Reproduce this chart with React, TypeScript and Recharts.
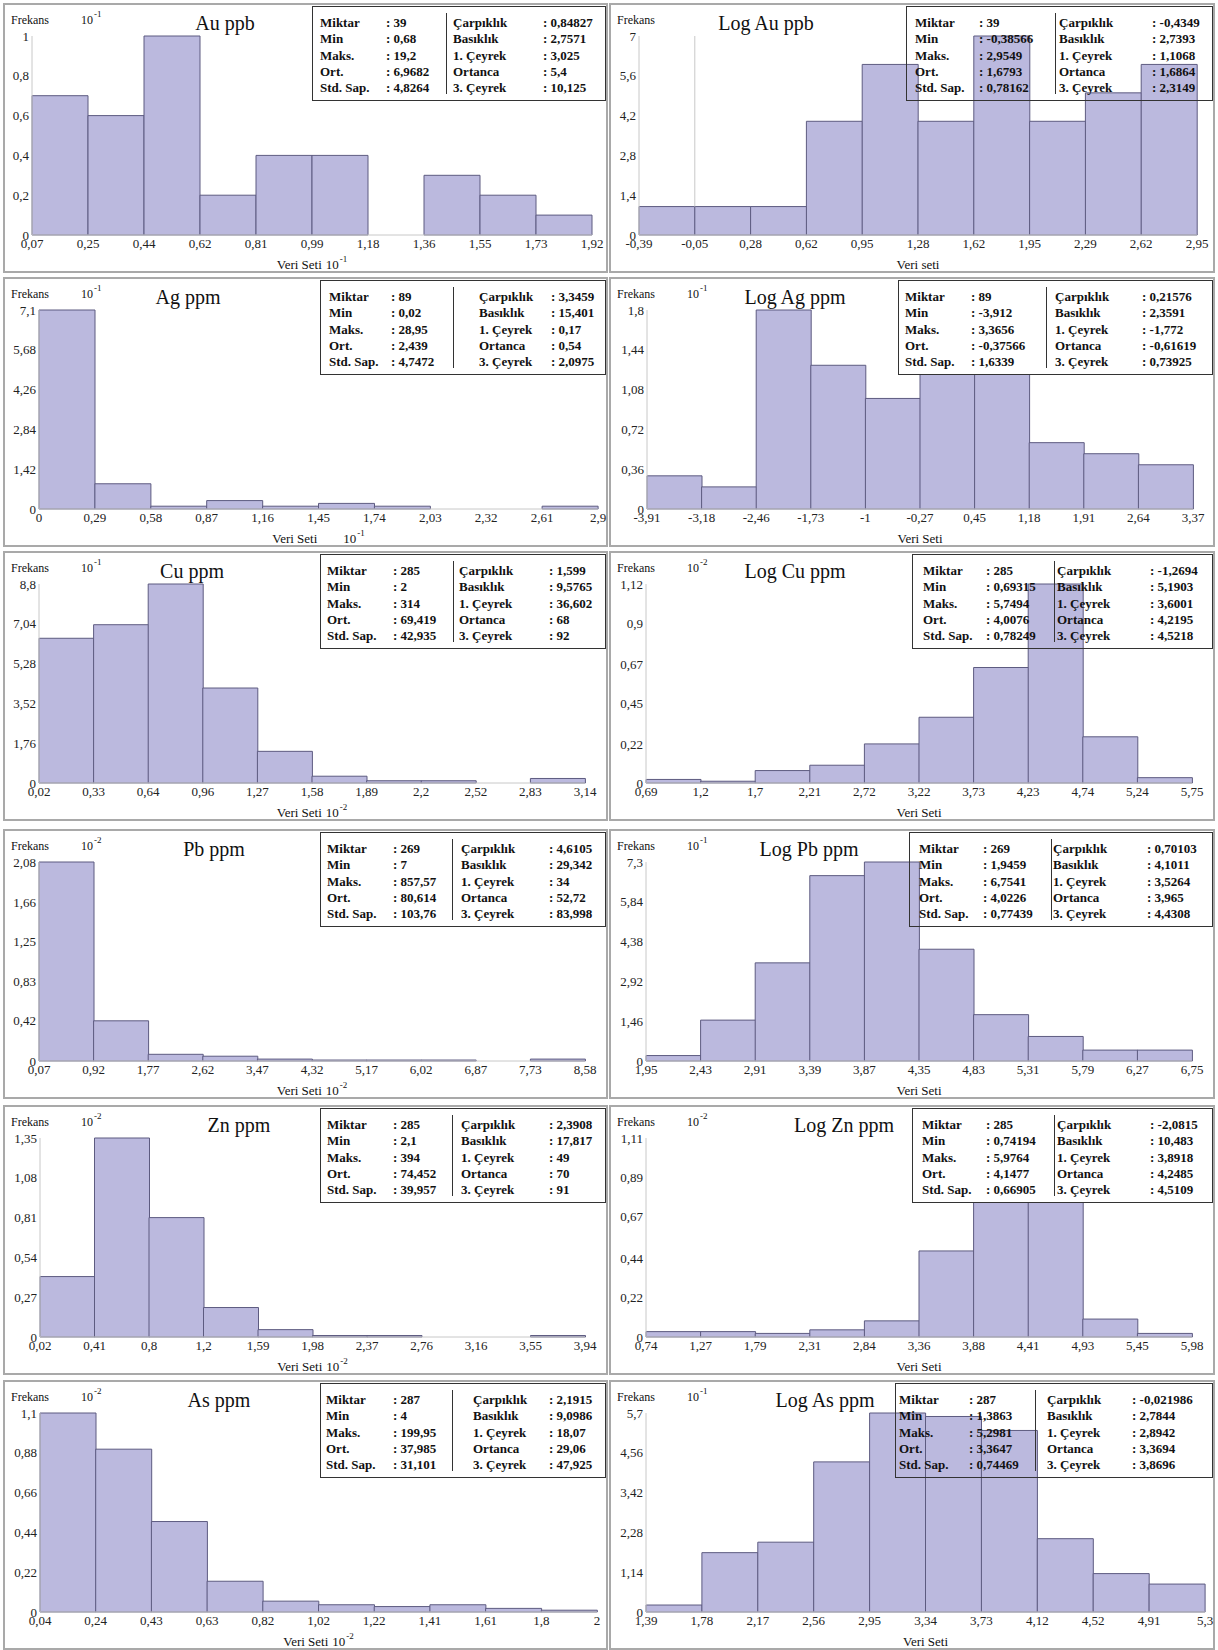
import React from 'react';
import { BarChart, Bar, XAxis, YAxis, ReferenceLine } from 'recharts';

// stat box labels (same in every panel)
const leftStatLabels = ['Miktar', 'Min', 'Maks.', 'Ort.', 'Std. Sap.'];
const rightStatLabels = ['Çarpıklık', 'Basıklık', '1. Çeyrek', 'Ortanca', '3. Çeyrek'];

// Au ppb
const auEdges = ['0,07', '0,25', '0,44', '0,62', '0,81', '0,99', '1,18', '1,36', '1,55', '1,73', '1,92'];
const auFreq = [0.7, 0.6, 1, 0.2, 0.4, 0.4, 0, 0.3, 0.2, 0.1];
const auYTicks = [0, 0.2, 0.4, 0.6, 0.8, 1];
const auStats = ['39', '0,68', '19,2', '6,9682', '4,8264', '0,84827', '2,7571', '3,025', '5,4', '10,125'];

// Log Au ppb
const logAuEdges = ['-0,39', '-0,05', '0,28', '0,62', '0,95', '1,28', '1,62', '1,95', '2,29', '2,62', '2,95'];
const logAuFreq = [1, 1, 1, 4, 6, 4, 7, 4, 5, 6];
const logAuYTicks = [0, 1.4, 2.8, 4.2, 5.6, 7];
const logAuStats = ['39', '-0,38566', '2,9549', '1,6793', '0,78162', '-0,4349', '2,7393', '1,1068', '1,6864', '2,3149'];

// Ag ppm
const agEdges = ['0', '0,29', '0,58', '0,87', '1,16', '1,45', '1,74', '2,03', '2,32', '2,61', '2,9'];
const agFreq = [7.1, 0.9, 0.1, 0.3, 0.1, 0.2, 0.1, 0, 0, 0.1];
const agYTicks = [0, 1.42, 2.84, 4.26, 5.68, 7.1];
const agStats = ['89', '0,02', '28,95', '2,439', '4,7472', '3,3459', '15,401', '0,17', '0,54', '2,0975'];

// Log Ag ppm
const logAgEdges = ['-3,91', '-3,18', '-2,46', '-1,73', '-1', '-0,27', '0,45', '1,18', '1,91', '2,64', '3,37'];
const logAgFreq = [0.3, 0.2, 1.8, 1.3, 1.0, 1.4, 1.4, 0.6, 0.5, 0.4];
const logAgYTicks = [0, 0.36, 0.72, 1.08, 1.44, 1.8];
const logAgStats = ['89', '-3,912', '3,3656', '-0,37566', '1,6339', '0,21576', '2,3591', '-1,772', '-0,61619', '0,73925'];

// Cu ppm
const cuEdges = ['0,02', '0,33', '0,64', '0,96', '1,27', '1,58', '1,89', '2,2', '2,52', '2,83', '3,14'];
const cuFreq = [6.4, 7.0, 8.8, 4.2, 1.4, 0.3, 0.1, 0.1, 0, 0.2];
const cuYTicks = [0, 1.76, 3.52, 5.28, 7.04, 8.8];
const cuStats = ['285', '2', '314', '69,419', '42,935', '1,599', '9,5765', '36,602', '68', '92'];

// Log Cu ppm
const logCuEdges = ['0,69', '1,2', '1,7', '2,21', '2,72', '3,22', '3,73', '4,23', '4,74', '5,24', '5,75'];
const logCuFreq = [0.02, 0.01, 0.07, 0.1, 0.22, 0.37, 0.65, 1.12, 0.26, 0.03];
const logCuYTicks = [0, 0.22, 0.45, 0.67, 0.9, 1.12];
const logCuStats = ['285', '0,69315', '5,7494', '4,0076', '0,78249', '-1,2694', '5,1903', '3,6001', '4,2195', '4,5218'];

// Pb ppm
const pbEdges = ['0,07', '0,92', '1,77', '2,62', '3,47', '4,32', '5,17', '6,02', '6,87', '7,73', '8,58'];
const pbFreq = [2.08, 0.42, 0.07, 0.05, 0.02, 0.01, 0.01, 0.01, 0, 0.02];
const pbYTicks = [0, 0.42, 0.83, 1.25, 1.66, 2.08];
const pbStats = ['269', '7', '857,57', '80,614', '103,76', '4,6105', '29,342', '34', '52,72', '83,998'];

// Log Pb ppm
const logPbEdges = ['1,95', '2,43', '2,91', '3,39', '3,87', '4,35', '4,83', '5,31', '5,79', '6,27', '6,75'];
const logPbFreq = [0.2, 1.5, 3.6, 6.8, 7.3, 4.1, 1.7, 0.9, 0.4, 0.4];
const logPbYTicks = [0, 1.46, 2.92, 4.38, 5.84, 7.3];
const logPbStats = ['269', '1,9459', '6,7541', '4,0226', '0,77439', '0,70103', '4,1011', '3,5264', '3,965', '4,4308'];

// Zn ppm
const znEdges = ['0,02', '0,41', '0,8', '1,2', '1,59', '1,98', '2,37', '2,76', '3,16', '3,55', '3,94'];
const znFreq = [0.41, 1.35, 0.81, 0.2, 0.05, 0.01, 0.01, 0, 0, 0.01];
const znYTicks = [0, 0.27, 0.54, 0.81, 1.08, 1.35];
const znStats = ['285', '2,1', '394', '74,452', '39,957', '2,3908', '17,817', '49', '70', '91'];

// Log Zn ppm
const logZnEdges = ['0,74', '1,27', '1,79', '2,31', '2,84', '3,36', '3,88', '4,41', '4,93', '5,45', '5,98'];
const logZnFreq = [0.03, 0.03, 0.02, 0.04, 0.09, 0.48, 1.11, 0.93, 0.1, 0.02];
const logZnYTicks = [0, 0.22, 0.44, 0.67, 0.89, 1.11];
const logZnStats = ['285', '0,74194', '5,9764', '4,1477', '0,66905', '-2,0815', '10,483', '3,8918', '4,2485', '4,5109'];

// As ppm
const asEdges = ['0,04', '0,24', '0,43', '0,63', '0,82', '1,02', '1,22', '1,41', '1,61', '1,8', '2'];
const asFreq = [1.1, 0.9, 0.5, 0.17, 0.06, 0.04, 0.03, 0.04, 0.02, 0.01];
const asYTicks = [0, 0.22, 0.44, 0.66, 0.88, 1.1];
const asStats = ['287', '4', '199,95', '37,985', '31,101', '2,1915', '9,0986', '18,07', '29,06', '47,925'];

// Log As ppm
const logAsEdges = ['1,39', '1,78', '2,17', '2,56', '2,95', '3,34', '3,73', '4,12', '4,52', '4,91', '5,3'];
const logAsFreq = [0.2, 1.7, 2.0, 4.3, 5.7, 5.6, 5.2, 2.1, 1.1, 0.8];
const logAsYTicks = [0, 1.14, 2.28, 3.42, 4.56, 5.7];
const logAsStats = ['287', '1,3863', '5,2981', '3,3647', '0,74469', '-0,021986', '2,7844', '2,8942', '3,3694', '3,8696'];

const ROW_TOPS = [3, 277, 551, 829, 1105, 1380];
const COL_LEFTS = [3, 609];
const PANEL_W = [605, 606];
const PANEL_H = 270;
const PLOT_TOP = 31;
const PLOT_BOTTOM = 230;
const X_AXIS_H = 24;
const FONT = '"Liberation Serif", "DejaVu Serif", serif';
const BAR_FILL = '#bbb9de';
const BAR_STROKE = '#5d5b80';

const panels = [
  { title: 'Au ppb', edges: auEdges, freq: auFreq, yTicks: auYTicks, stats: auStats, yExp: '-1', xLabel: 'Veri Seti', xExp: '-1', xGap: 4,
    col: 0, row: 0, plot: [27, 587], titleX: 220, box: 307, boxFill: true, cols: [7, 73, 133, 140, 230] },
  { title: 'Log Au ppb', edges: logAuEdges, freq: logAuFreq, yTicks: logAuYTicks, stats: logAuStats, yExp: '', xLabel: 'Veri seti', xExp: '', xGap: 0,
    col: 1, row: 0, plot: [28, 586], titleX: 155, box: 295, boxFill: false, cols: [8, 72, 148, 152, 245], vLineAfterBin: 0 },
  { title: 'Ag ppm', edges: agEdges, freq: agFreq, yTicks: agYTicks, stats: agStats, yExp: '-1', xLabel: 'Veri Seti', xExp: '-1', xGap: 26,
    col: 0, row: 1, plot: [34, 593], titleX: 183, box: 315, boxFill: true, cols: [8, 70, 132, 158, 230] },
  { title: 'Log Ag ppm', edges: logAgEdges, freq: logAgFreq, yTicks: logAgYTicks, stats: logAgStats, yExp: '-1', xLabel: 'Veri Seti', xExp: '', xGap: 0,
    col: 1, row: 1, plot: [36, 582], titleX: 184, box: 287, boxFill: true, cols: [6, 72, 147, 156, 243] },
  { title: 'Cu ppm', edges: cuEdges, freq: cuFreq, yTicks: cuYTicks, stats: cuStats, yExp: '-1', xLabel: 'Veri Seti', xExp: '-2', xGap: 4,
    col: 0, row: 2, plot: [34, 580], titleX: 187, box: 315, boxFill: true, cols: [6, 72, 132, 138, 228] },
  { title: 'Log Cu ppm', edges: logCuEdges, freq: logCuFreq, yTicks: logCuYTicks, stats: logCuStats, yExp: '-2', xLabel: 'Veri Seti', xExp: '', xGap: 0,
    col: 1, row: 2, plot: [35, 581], titleX: 184, box: 301, boxFill: false, cols: [10, 73, 141, 144, 237] },
  { title: 'Pb ppm', edges: pbEdges, freq: pbFreq, yTicks: pbYTicks, stats: pbStats, yExp: '-2', xLabel: 'Veri Seti', xExp: '-2', xGap: 4,
    col: 0, row: 3, plot: [34, 580], titleX: 209, box: 315, boxFill: true, cols: [6, 72, 131, 140, 228] },
  { title: 'Log Pb ppm', edges: logPbEdges, freq: logPbFreq, yTicks: logPbYTicks, stats: logPbStats, yExp: '-1', xLabel: 'Veri Seti', xExp: '', xGap: 0,
    col: 1, row: 3, plot: [35, 581], titleX: 198, box: 298, boxFill: false, cols: [9, 73, 141, 143, 237] },
  { title: 'Zn ppm', edges: znEdges, freq: znFreq, yTicks: znYTicks, stats: znStats, yExp: '-2', xLabel: 'Veri Seti', xExp: '-2', xGap: 4,
    col: 0, row: 4, plot: [35, 580], titleX: 234, box: 315, boxFill: true, cols: [6, 72, 131, 140, 228] },
  { title: 'Log Zn ppm', edges: logZnEdges, freq: logZnFreq, yTicks: logZnYTicks, stats: logZnStats, yExp: '-2', xLabel: 'Veri Seti', xExp: '', xGap: 0,
    col: 1, row: 4, plot: [35, 581], titleX: 233, box: 301, boxFill: true, cols: [9, 73, 141, 144, 237] },
  { title: 'As ppm', edges: asEdges, freq: asFreq, yTicks: asYTicks, stats: asStats, yExp: '-2', xLabel: 'Veri Seti', xExp: '-2', xGap: 4,
    col: 0, row: 5, plot: [35, 592], titleX: 214, box: 315, boxFill: true, cols: [5, 72, 131, 152, 228] },
  { title: 'Log As ppm', edges: logAsEdges, freq: logAsFreq, yTicks: logAsYTicks, stats: logAsStats, yExp: '-1', xLabel: 'Veri Seti', xExp: '', xGap: 0,
    col: 1, row: 5, plot: [35, 594], titleX: 214, box: 284, boxFill: false, cols: [3, 73, 139, 151, 236] },
];

const fmt = (v: number) => String(v).replace('.', ',');

function Pow({ e }: { e: string }) {
  return (
    <span>
      10<span style={{ fontSize: 9, position: 'relative', top: -7, marginLeft: 1 }}>{e}</span>
    </span>
  );
}

// tick on a bin axis: label the left edge of each bin, and the right edge of the last one
function EdgeTick(props: any) {
  const { x, y, payload, edges, bandWidth, fontSize } = props;
  const i = payload.value as number;
  const n = edges.length - 1;
  const common = { y, dy: '0.71em', textAnchor: 'middle' as const, fontSize, fill: '#222', fontFamily: FONT };
  return (
    <g>
      <text x={x - bandWidth / 2} {...common}>{edges[i]}</text>
      {i === n - 1 && <text x={x + bandWidth / 2} {...common}>{edges[n]}</text>}
    </g>
  );
}

function HistogramPanel({ p }: { p: any }) {
  const w = PANEL_W[p.col];
  const n = p.freq.length;
  const data = p.freq.map((v: number, i: number) => ({ bin: i, v }));
  const yMax = p.yTicks[p.yTicks.length - 1];
  const [plotL, plotR] = p.plot;
  const bandWidth = (plotR - plotL) / n;
  const [cLabel, cValue, cDiv, cRLabel, cRValue] = p.cols;
  const chartW = w - 4;
  const chartH = PANEL_H - 4;
  const tickStyle = { fontSize: 13, fill: '#222', fontFamily: FONT };
  const vb = p.vLineAfterBin;

  return (
    <div
      style={{
        position: 'absolute',
        left: COL_LEFTS[p.col],
        top: ROW_TOPS[p.row],
        width: w,
        height: PANEL_H,
        boxSizing: 'border-box',
        border: '2px solid #a9a9a9',
        background: '#fff',
        fontFamily: FONT,
        color: '#111',
      }}
    >
      <BarChart
        width={chartW}
        height={chartH}
        data={data}
        barCategoryGap={0}
        barGap={0}
        margin={{ top: PLOT_TOP, right: chartW - plotR, bottom: chartH - PLOT_BOTTOM - X_AXIS_H, left: 0 }}
      >
        {/* light frame: top and right edges of the plot */}
        <XAxis xAxisId="frame" dataKey="bin" orientation="top" height={0} tick={false} tickLine={false} axisLine={{ stroke: '#dcdcdc' }} />
        <YAxis yAxisId="frame" orientation="right" width={0} tick={false} tickLine={false} axisLine={{ stroke: '#dcdcdc' }} />
        <XAxis
          dataKey="bin"
          type="category"
          interval={0}
          tickLine={false}
          tickSize={4}
          tickMargin={0}
          axisLine={{ stroke: '#c8c8c8' }}
          height={X_AXIS_H}
          tick={<EdgeTick edges={p.edges} bandWidth={bandWidth} fontSize={13} />}
        />
        <YAxis
          type="number"
          domain={[0, yMax]}
          ticks={p.yTicks}
          interval={0}
          tickFormatter={fmt}
          tickLine={false}
          tickSize={2}
          tickMargin={1}
          axisLine={{ stroke: '#c8c8c8' }}
          width={plotL}
          tick={tickStyle}
        />
        <Bar
          dataKey="v"
          fill={BAR_FILL}
          stroke={BAR_STROKE}
          strokeWidth={1}
          isAnimationActive={false}
        />
        {vb !== undefined && (
          <ReferenceLine
            segment={[{ x: vb, y: p.freq[vb] }, { x: vb, y: yMax }]}
            position="end"
            stroke="#c8c8c8"
          />
        )}
      </BarChart>

      <div style={{ position: 'absolute', left: 6, top: 8, fontSize: 12 }}>Frekans</div>
      {p.yExp && (
        <div style={{ position: 'absolute', left: 76, top: 8, fontSize: 12 }}>
          <Pow e={p.yExp} />
        </div>
      )}
      <div
        style={{
          position: 'absolute',
          left: p.titleX,
          top: 7,
          transform: 'translateX(-50%)',
          fontSize: 20,
          whiteSpace: 'nowrap',
        }}
      >
        {p.title}
      </div>
      <div
        style={{
          position: 'absolute',
          left: (plotL + plotR) / 2,
          top: 252,
          transform: 'translateX(-50%)',
          fontSize: 13,
          whiteSpace: 'nowrap',
        }}
      >
        {p.xLabel}
        {p.xExp && (
          <span style={{ marginLeft: p.xGap }}>
            <Pow e={p.xExp} />
          </span>
        )}
      </div>

      <div
        style={{
          position: 'absolute',
          left: p.box,
          right: 0,
          top: 1,
          height: 95,
          boxSizing: 'border-box',
          border: '1.5px solid #333',
          background: p.boxFill ? '#fff' : 'transparent',
          fontWeight: 'bold',
          fontSize: 13,
        }}
      >
        {leftStatLabels.map((l, i) => (
          <div key={'l' + i} style={{ position: 'absolute', left: cLabel, top: 8 + i * 16.3, lineHeight: '16px', whiteSpace: 'nowrap' }}>
            {l}
          </div>
        ))}
        {leftStatLabels.map((_, i) => (
          <div key={'v' + i} style={{ position: 'absolute', left: cValue, top: 8 + i * 16.3, lineHeight: '16px', whiteSpace: 'nowrap' }}>
            : {p.stats[i]}
          </div>
        ))}
        <div style={{ position: 'absolute', left: cDiv, top: 6, bottom: 6, borderLeft: '1.5px solid #333' }} />
        {rightStatLabels.map((l, i) => (
          <div key={'r' + i} style={{ position: 'absolute', left: cRLabel, top: 8 + i * 16.3, lineHeight: '16px', whiteSpace: 'nowrap' }}>
            {l}
          </div>
        ))}
        {rightStatLabels.map((_, i) => (
          <div key={'rv' + i} style={{ position: 'absolute', left: cRValue, top: 8 + i * 16.3, lineHeight: '16px', whiteSpace: 'nowrap' }}>
            : {p.stats[i + 5]}
          </div>
        ))}
      </div>
    </div>
  );
}

export default function App() {
  return (
    <div style={{ position: 'relative', width: 1218, height: 1650, background: '#fff', overflow: 'hidden' }}>
      <style>{'body { margin: 0; } .recharts-surface { overflow: visible; }'}</style>
      {panels.map((p) => (
        <HistogramPanel key={p.title} p={p} />
      ))}
    </div>
  );
}
